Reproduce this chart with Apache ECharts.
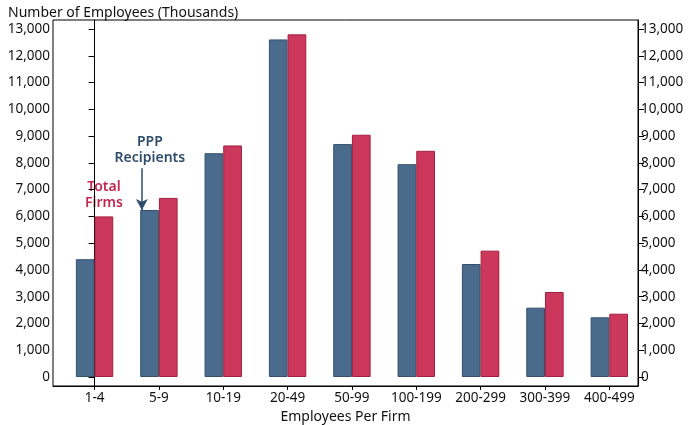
<!DOCTYPE html>
<html>
<head>
    <meta charset="utf-8" />
    <script src="https://cdn.jsdelivr.net/npm/echarts@6/dist/echarts.min.js"></script>
    <title></title>
</head>
<body style="margin:0">
    <div id="main" style="width:692px;height:425px;"></div>

    <script type="text/javascript">

        var categories = ['1-4', '5-9', '10-19', '20-49', '50-99', '100-199', '200-299', '300-399', '400-499'];
        var pppRecipients = [4400, 6240, 8360, 12610, 8700, 7950, 4220, 2590, 2230];
        var totalFirms = [6000, 6690, 8650, 12800, 9050, 8450, 4720, 3175, 2365];
        var yTicks = [0, 1000, 2000, 3000, 4000, 5000, 6000, 7000, 8000, 9000, 10000, 11000, 12000, 13000];
        var xTicks = [0, 1, 2, 3, 4, 5, 6, 7, 8];

        var font = 'Noto Sans';
        var myChart = echarts.init(document.getElementById('main'));

        function pairs(arr) {
            var out = [];
            for (var i = 0; i < arr.length; i++) {
                out.push([i, arr[i]]);
            }
            return out;
        }

        function yAxisOpt(pos) {
            return {
                type: 'value',
                position: pos,
                min: -336,
                max: 13336,
                axisLine: { show: true, lineStyle: { color: '#000', width: 1 } },
                axisTick: { show: true, length: 6, customValues: yTicks, lineStyle: { color: '#000' } },
                axisLabel: {
                    customValues: yTicks,
                    margin: 3,
                    color: '#111',
                    fontFamily: font,
                    fontSize: 13.5,
                    formatter: function (v) { return v.toLocaleString('en-US'); }
                },
                splitLine: { show: false }
            };
        }

        myChart.setOption({
            animation: false,
            title: {
                text: 'Number of Employees (Thousands)',
                left: 3,
                top: 1,
                textStyle: { fontFamily: font, fontSize: 14, fontWeight: 'normal', color: '#111' }
            },
            grid: {
                left: 53,
                right: 54,
                top: 20,
                bottom: 39,
                outerBoundsMode: 'none',
                containLabel: false,
                show: true,
                borderColor: '#000',
                borderWidth: 1
            },
            xAxis: {
                type: 'value',
                min: -0.646,
                max: 8.446,
                name: 'Employees Per Firm',
                nameLocation: 'middle',
                nameGap: 24,
                nameTextStyle: { fontFamily: font, fontSize: 14, color: '#111' },
                axisLine: { show: true, onZero: false, lineStyle: { color: '#000' } },
                axisTick: { show: true, length: 4, customValues: xTicks, lineStyle: { color: '#000' } },
                axisLabel: {
                    customValues: xTicks,
                    margin: 5,
                    color: '#111',
                    fontFamily: font,
                    fontSize: 13.5,
                    formatter: function (v) { return categories[Math.round(v)]; }
                },
                splitLine: { show: false }
            },
            yAxis: [yAxisOpt('left'), yAxisOpt('right')],
            series: [{
                name: 'PPP Recipients',
                type: 'bar',
                barWidth: 18.7,
                barGap: '0%',
                data: pairs(pppRecipients),
                itemStyle: { color: '#4a6b8c', borderColor: '#34506c', borderWidth: 1 },
                markLine: {
                    silent: true,
                    symbol: ['none', 'arrow'],
                    symbolSize: [9, 11],
                    label: { show: false },
                    lineStyle: { color: '#2f4d6b', width: 1.5, type: 'solid' },
                    data: [[{ coord: [0.88, 7800] }, { coord: [0.88, pppRecipients[1]] }]]
                }
            }, {
                name: 'Total Firms',
                type: 'bar',
                barWidth: 18.7,
                barGap: '0%',
                data: pairs(totalFirms),
                itemStyle: { color: '#cc375c', borderColor: '#a3213f', borderWidth: 1 }
            }]
        });

        // text annotations anchored to data coordinates
        var pTotal = myChart.convertToPixel({ gridIndex: 0 }, [0.145, totalFirms[0]]);
        var pPPP = myChart.convertToPixel({ gridIndex: 0 }, [0.86, 7800]);

        myChart.setOption({
            graphic: [{
                type: 'text',
                x: pTotal[0],
                y: pTotal[1] - 5,
                style: {
                    text: 'Total\nFirms',
                    fill: '#c02a50',
                    font: '600 14px "Noto Sans"',
                    align: 'center',
                    verticalAlign: 'bottom',
                    lineHeight: 16
                }
            }, {
                type: 'text',
                x: pPPP[0],
                y: pPPP[1] - 2,
                style: {
                    text: 'PPP\nRecipients',
                    fill: '#2f4d6b',
                    font: '600 14px "Noto Sans"',
                    align: 'center',
                    verticalAlign: 'bottom',
                    lineHeight: 16
                }
            }]
        });

    </script>
</body>
</html>
